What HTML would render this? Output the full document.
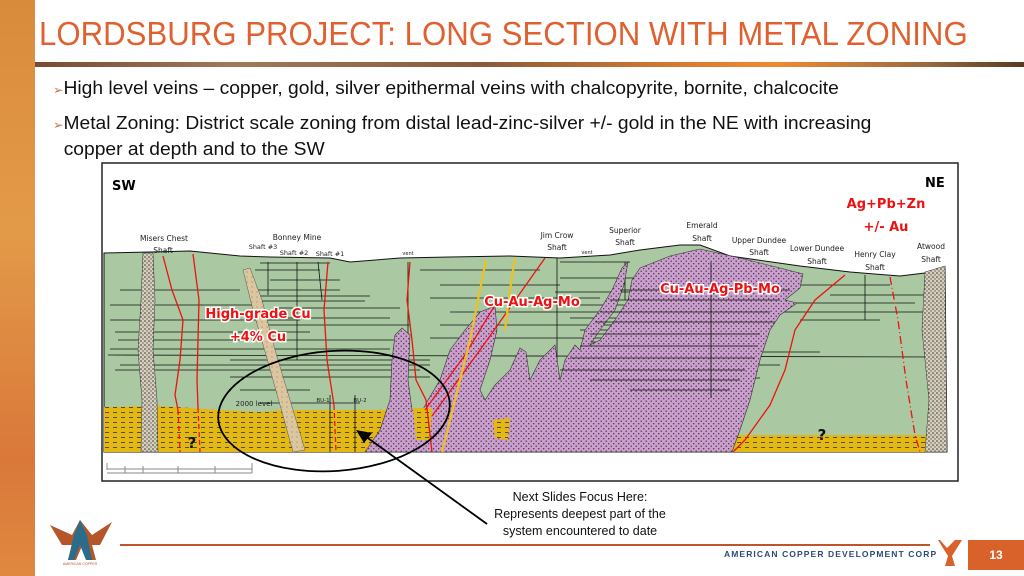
<!DOCTYPE html>
<html><head><meta charset="utf-8"><style>
html,body{margin:0;padding:0;width:1024px;height:576px;overflow:hidden;background:#fff;font-family:"Liberation Sans",sans-serif}
.strip{position:absolute;left:0;top:0;width:35px;height:576px;background:linear-gradient(180deg,#d98b3c,#e39a48 40%,#d9783a 80%,#e08840)}
.title{position:absolute;left:39px;top:15px;font-family:"Liberation Sans Narrow","Liberation Sans",sans-serif;font-size:33px;color:#e0612f;transform:scaleX(0.945);transform-origin:left;white-space:nowrap}
.bar{position:absolute;left:35px;top:62px;width:989px;height:5px;background:linear-gradient(90deg,#7a4a30,#a07a5a 20%,#8a5a3a 45%,#d67a30 65%,#f08a30 75%,#9a6a40 90%,#5a3a20)}
.b{position:absolute;left:53px;font-size:18.5px;color:#111;transform:scaleX(1.04);transform-origin:left;white-space:nowrap;line-height:23px}
.b span{color:#b87850;font-size:12px}
.note{position:absolute;left:470px;top:489px;width:220px;text-align:center;font-size:12.5px;line-height:17px;color:#111}
.fline{position:absolute;left:120px;top:544px;width:810px;height:2px;background:#c0542a}
.corp{position:absolute;left:724px;top:549px;font-size:8.5px;letter-spacing:1.1px;color:#2c4a78;font-weight:bold;white-space:nowrap}
.pg{position:absolute;left:968px;top:540px;width:56px;height:30px;background:#d9622b;color:#fff;font-weight:bold;font-size:12px;text-align:center;line-height:30px}
</style></head><body>
<div class="strip"></div>
<div class="title">LORDSBURG PROJECT: LONG SECTION WITH METAL ZONING</div>
<div class="bar"></div>
<div class="b" style="top:76px"><span>➢</span>High level veins – copper, gold, silver epithermal veins with chalcopyrite, bornite, chalcocite</div>
<div class="b" style="top:111px"><span>➢</span>Metal Zoning: District scale zoning from distal lead-zinc-silver +/- gold in the NE with increasing<br>&nbsp;&nbsp;copper at depth and to the SW</div>

<svg style="position:absolute;left:0;top:0" width="1024" height="576" viewBox="0 0 1024 576">
<defs>
<pattern id="pd" width="5" height="5" patternUnits="userSpaceOnUse"><rect width="5" height="5" fill="#c99fcb"/><circle cx="1.2" cy="1.2" r="0.7" fill="#4a2a4a"/><circle cx="3.7" cy="3.7" r="0.7" fill="#4a2a4a"/></pattern>
<pattern id="yd" width="8" height="5" patternUnits="userSpaceOnUse"><rect width="8" height="5" fill="#e4b812"/><line x1="1" y1="2.5" x2="5" y2="2.5" stroke="#333" stroke-width="0.8"/></pattern>
<pattern id="sd" width="4" height="4" patternUnits="userSpaceOnUse"><rect width="4" height="4" fill="#d8d0bc"/><circle cx="1" cy="1" r="0.8" fill="#333"/><circle cx="3" cy="3" r="0.7" fill="#555"/></pattern>
<pattern id="td" width="5" height="5" patternUnits="userSpaceOnUse"><rect width="5" height="5" fill="#dcc6a0"/><circle cx="2" cy="2" r="0.5" fill="#7a6040"/></pattern>
</defs>
<rect x="102" y="163" width="856" height="318" fill="#fff" stroke="#222" stroke-width="1.5"/>
<text x="112" y="190" font-family="DejaVu Sans,sans-serif" font-weight="bold" font-size="13">SW</text>
<text x="925" y="187" font-family="DejaVu Sans,sans-serif" font-weight="bold" font-size="13">NE</text>
<path d="M104,253 L150,252 L190,251 L240,256 L270,257 L330,258 L350,262 L400,258 L450,257 L510,256 L560,258 L610,255 L640,250 L680,245 L700,245 L730,256 L800,266 L850,272 L900,276 L925,273 L945,267 L947,452 L104,452 Z" fill="#aac9a2" stroke="#111" stroke-width="1"/>
<path d="M104,407 L160,406 L220,410 L260,412 L283,410 L370,410 L520,408 L520,452 L104,452 Z" fill="url(#yd)"/>
<path d="M733,435 L932,435 L932,452 L728,452 Z" fill="url(#yd)"/>
<g stroke="#111" stroke-width="0.8">
<line x1="120" y1="290" x2="240" y2="290"/><line x1="110" y1="305" x2="260" y2="305"/><line x1="110" y1="320" x2="300" y2="320"/><line x1="115" y1="332" x2="310" y2="332"/><line x1="118" y1="340" x2="395" y2="340"/><line x1="110" y1="349" x2="390" y2="349"/><line x1="120" y1="365" x2="430" y2="365"/><line x1="230" y1="360" x2="430" y2="360"/><line x1="115" y1="370" x2="420" y2="370"/><line x1="230" y1="377" x2="430" y2="377"/><line x1="240" y1="390" x2="310" y2="390"/>
<line x1="260" y1="263" x2="330" y2="263"/><line x1="255" y1="270" x2="320" y2="270"/><line x1="270" y1="280" x2="340" y2="280"/><line x1="258" y1="290" x2="340" y2="290"/><line x1="260" y1="296" x2="370" y2="296"/><line x1="255" y1="301" x2="365" y2="301"/><line x1="275" y1="308" x2="400" y2="308"/><line x1="280" y1="318" x2="390" y2="318"/><line x1="260" y1="325" x2="410" y2="325"/>
<line x1="268" y1="262" x2="268" y2="295"/><line x1="297" y1="262" x2="297" y2="360"/><line x1="318" y1="262" x2="322" y2="300"/><line x1="408" y1="262" x2="408" y2="355"/>
<line x1="330" y1="395" x2="330" y2="452"/><line x1="355" y1="395" x2="355" y2="452"/>
<line x1="260" y1="403" x2="360" y2="403"/>
<line x1="108" y1="355" x2="947" y2="357"/>
<line x1="420" y1="270" x2="540" y2="270"/><line x1="440" y1="285" x2="560" y2="285"/><line x1="430" y1="298" x2="600" y2="298"/><line x1="450" y1="312" x2="620" y2="312"/><line x1="440" y1="325" x2="640" y2="325"/><line x1="430" y1="338" x2="660" y2="338"/>
<line x1="560" y1="262" x2="630" y2="262"/><line x1="560" y1="278" x2="640" y2="278"/><line x1="555" y1="292" x2="700" y2="292"/><line x1="560" y1="305" x2="780" y2="305"/><line x1="570" y1="318" x2="770" y2="318"/><line x1="580" y1="330" x2="760" y2="330"/><line x1="590" y1="342" x2="760" y2="342"/><line x1="600" y1="352" x2="820" y2="352"/><line x1="590" y1="365" x2="780" y2="365"/><line x1="600" y1="378" x2="760" y2="378"/><line x1="620" y1="390" x2="730" y2="390"/>
<line x1="760" y1="285" x2="890" y2="285"/><line x1="830" y1="295" x2="935" y2="295"/><line x1="790" y1="303" x2="915" y2="303"/><line x1="780" y1="312" x2="930" y2="312"/><line x1="800" y1="320" x2="880" y2="320"/>
<line x1="557" y1="258" x2="557" y2="390"/><line x1="711" y1="260" x2="711" y2="397"/><line x1="625" y1="262" x2="625" y2="300"/><line x1="865" y1="275" x2="865" y2="320"/>
</g>
<path d="M365,452 L380,430 L390,400 L392,360 L395,335 L402,328 L410,335 L408,380 L412,410 L420,415 L428,400 L440,380 L450,350 L465,330 L480,312 L495,306 L497,330 L490,360 L480,390 L485,400 L495,385 L510,370 L520,348 L526,352 L530,380 L540,360 L555,345 L560,380 L565,360 L575,345 L580,350 L585,330 L600,310 L612,290 L622,268 L628,262 L624,285 L615,310 L600,330 L590,345 L600,340 L615,320 L628,300 L632,280 L640,268 L670,256 L700,249 L740,258 L780,268 L803,274 L800,288 L785,300 L797,303 L780,315 L770,330 L760,360 L750,400 L740,430 L732,452 Z" fill="url(#pd)" stroke="#333" stroke-width="0.6"/>
<path d="M413,408 L432,408 L430,440 L416,440 Z" fill="url(#yd)"/>
<path d="M493,420 L510,418 L508,440 L495,438 Z" fill="url(#yd)"/>
<g stroke="#111" stroke-width="0.8">
<line x1="620" y1="290" x2="790" y2="290"/><line x1="610" y1="300" x2="780" y2="300"/><line x1="600" y1="312" x2="770" y2="312"/><line x1="595" y1="322" x2="775" y2="322"/><line x1="590" y1="334" x2="760" y2="334"/><line x1="580" y1="346" x2="758" y2="346"/><line x1="570" y1="358" x2="755" y2="358"/><line x1="560" y1="370" x2="745" y2="370"/><line x1="590" y1="380" x2="740" y2="380"/><line x1="630" y1="390" x2="730" y2="390"/>
<line x1="711" y1="262" x2="711" y2="398"/>
</g>
<path d="M143,253 L153,253 L155,300 L153,350 L157,400 L158,452 L141,452 L142,400 L138,350 L141,300 Z" fill="url(#sd)" stroke="#333" stroke-width="0.5"/>
<path d="M925,272 L945,266 L947,452 L925,452 L929,400 L922,330 Z" fill="url(#sd)" stroke="#333" stroke-width="0.5"/>
<path d="M243,270 L250,268 L262,300 L275,350 L290,400 L305,450 L293,452 L280,405 L266,355 L253,310 Z" fill="url(#td)" stroke="#555" stroke-width="0.5"/>
<g fill="none" stroke="#e11" stroke-width="1.3">
<path d="M163,256 L172,290 L183,320 L180,360 L175,395 L178,410"/>
<path d="M178,410 L180,452" stroke-dasharray="5,3"/>
<path d="M193,254 L199,300 L198,340 L197,380 L198,408"/>
<path d="M198,408 L200,452" stroke-dasharray="5,3"/>
<path d="M328,262 L324,310 L327,360 L334,405"/>
<path d="M334,405 L336,452" stroke-dasharray="5,3"/>
<path d="M410,262 L407,300 L412,340 L416,380 L426,400 L432,452"/>
<path d="M425,410 L465,355 L495,305"/>
<path d="M432,416 L480,350 L545,258"/>
<path d="M845,275 L815,300 L795,330 L785,370 L770,405 L745,440 L733,452"/>
<path d="M890,277 L898,320 L906,380 L915,435 L920,452" stroke-dasharray="8,3,1,3"/>
</g>
<g fill="none" stroke="#f0c020" stroke-width="2.2">
<path d="M442,452 L455,400 L470,340 L486,260"/>
<path d="M505,330 L510,290 L515,258"/>
</g>
<g font-family="DejaVu Sans,sans-serif" font-size="7.5" fill="#222" text-anchor="middle">
<text x="164" y="241">Misers Chest</text><text x="163" y="253">Shaft</text>
<text x="297" y="240">Bonney Mine</text>
<text x="263" y="249" font-size="6.5">Shaft #3</text><text x="294" y="255" font-size="6.5">Shaft #2</text><text x="330" y="256" font-size="6.5">Shaft #1</text>
<text x="408" y="255" font-size="5">vent</text>
<text x="557" y="238">Jim Crow</text><text x="557" y="250">Shaft</text>
<text x="587" y="254" font-size="5">vent</text>
<text x="625" y="233">Superior</text><text x="625" y="245">Shaft</text>
<text x="702" y="228">Emerald</text><text x="702" y="241">Shaft</text>
<text x="759" y="243">Upper Dundee</text><text x="759" y="255">Shaft</text>
<text x="817" y="251">Lower Dundee</text><text x="817" y="264">Shaft</text>
<text x="875" y="257">Henry Clay</text><text x="875" y="270">Shaft</text>
<text x="931" y="249">Atwood</text><text x="931" y="262">Shaft</text>
<text x="254" y="406" font-size="7">2000 level</text>
<text x="323" y="402" font-size="5.5">BU-1</text><text x="360" y="402" font-size="5.5">BU-2</text>
</g>
<g font-family="DejaVu Sans,sans-serif" font-weight="bold" font-size="13" fill="#ee1111" text-anchor="middle" stroke="#fff" stroke-width="3" paint-order="stroke">
<text x="258" y="318">High-grade Cu</text><text x="258" y="341">+4% Cu</text>
<text x="532" y="306">Cu-Au-Ag-Mo</text>
<text x="720" y="293">Cu-Au-Ag-Pb-Mo</text>
<text x="886" y="208">Ag+Pb+Zn</text><text x="886" y="231">+/- Au</text>
</g>
<g font-family="DejaVu Sans,sans-serif" font-weight="bold" font-size="15" fill="#111" text-anchor="middle">
<text x="192" y="448">?</text><text x="822" y="440">?</text>
</g>
<g stroke="#888" stroke-width="1" fill="none">
<line x1="107" y1="463" x2="107" y2="470"/><line x1="107" y1="469" x2="252" y2="469"/><line x1="107" y1="473" x2="252" y2="473"/><line x1="252" y1="463" x2="252" y2="473"/><line x1="125" y1="466" x2="125" y2="473"/><line x1="143" y1="466" x2="143" y2="473"/><line x1="178" y1="466" x2="178" y2="473"/><line x1="215" y1="466" x2="215" y2="473"/>
</g>
<ellipse cx="334" cy="411" rx="116" ry="60" fill="none" stroke="#000" stroke-width="1.8" transform="rotate(-4 334 411)"/>
<line x1="487" y1="524" x2="365" y2="436" stroke="#000" stroke-width="1.8"/>
<path d="M356,430 L372,433 L364,443 Z" fill="#000"/>
<path d="M50,525 L72,535 L80,520 L92,535 L112,522 L100,545 L92,545 L96,560 L88,560 L82,546 L76,560 L68,560 L72,545 L62,545 Z" fill="#b5552a"/>
<path d="M74,535 L80,520 L87,535 L92,560 L86,560 L80,545 L74,560 L68,560 Z" fill="#2a6d8a"/>
<text x="80" y="565" font-size="3.5" fill="#b5552a" text-anchor="middle">AMERICAN COPPER</text>
<path d="M940,540 L947,548 L955,540 L962,540 L952,556 L955,566 L945,566 L948,556 L938,540 Z" fill="#d9622b"/>
</svg>
<div class="note">Next Slides Focus Here:<br>Represents deepest part of the<br>system encountered to date</div>
<div class="fline"></div>
<div class="corp">AMERICAN COPPER DEVELOPMENT CORP</div>
<div class="pg">13</div>
</body></html>
